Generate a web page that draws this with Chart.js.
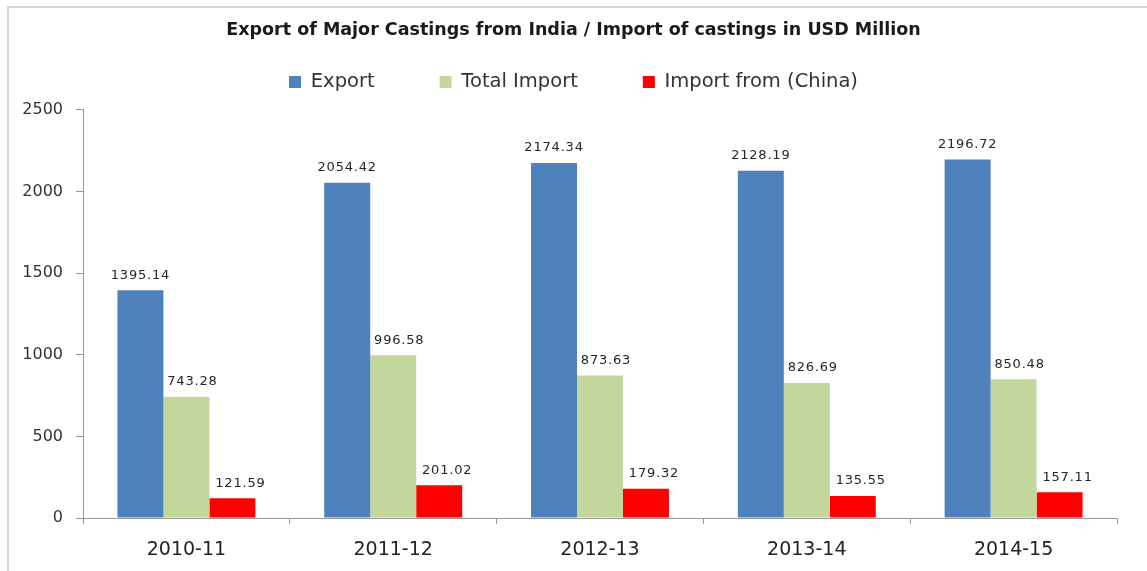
<!DOCTYPE html>
<html>
<head>
<meta charset="utf-8">
<script src="https://cdn.jsdelivr.net/npm/chart.js@4/dist/chart.umd.min.js"></script>
<style>
  html, body { margin: 0; padding: 0; background: #fff; overflow: hidden; }
  #castingsChart { display: block; }
</style>
</head>
<body>
<canvas id="castingsChart" width="1147" height="571"></canvas>
<script>
const years = ["2010-11", "2011-12", "2012-13", "2013-14", "2014-15"];
const exportValues = [1395.14, 2054.42, 2174.34, 2128.19, 2196.72];
const totalImport = [743.28, 996.58, 873.63, 826.69, 850.48];
const chinaImport = [121.59, 201.02, 179.32, 135.55, 157.11];

// grey frame of the original picture (left and top edges only)
const frame = {
  id: "frame",
  beforeDraw(chart) {
    const ctx = chart.ctx;
    ctx.save();
    ctx.strokeStyle = "#d6d6d6";
    ctx.lineWidth = 2;
    ctx.beginPath();
    ctx.moveTo(8, chart.height);
    ctx.lineTo(8, 7);
    ctx.lineTo(chart.width, 7);
    ctx.stroke();
    ctx.restore();
  }
};

// value labels above each bar
const barLabels = {
  id: "barLabels",
  afterDatasetsDraw(chart) {
    const ctx = chart.ctx;
    ctx.save();
    ctx.font = "13px 'DejaVu Sans'";
    ctx.fillStyle = "#262626";
    ctx.textAlign = "center";
    ctx.textBaseline = "middle";
    if ("letterSpacing" in ctx) ctx.letterSpacing = "0.8px";
    chart.data.datasets.forEach((ds, i) => {
      const shift = ds.labelShift || 0;
      chart.getDatasetMeta(i).data.forEach((bar, j) => {
        ctx.fillText(ds.data[j].toFixed(2), bar.x + shift, bar.y - 15);
      });
    });
    ctx.restore();
  }
};

new Chart(document.getElementById("castingsChart").getContext("2d"), {
  type: "bar",
  data: {
    labels: years,
    datasets: [
      { label: "Export", data: exportValues, backgroundColor: "#4F81BD" },
      { label: "Total Import", data: totalImport, backgroundColor: "#C3D69B", labelShift: 6 },
      { label: "Import from (China)", data: chinaImport, backgroundColor: "#FF0000", labelShift: 8 }
    ]
  },
  options: {
    responsive: false,
    animation: false,
    datasets: { bar: { categoryPercentage: 0.667, barPercentage: 1 } },
    layout: { padding: 0 },
    plugins: {
      title: {
        display: true,
        text: "Export of Major Castings from India / Import of castings in USD Million",
        color: "#1a1a1a",
        font: { family: "DejaVu Sans", size: 17.5, weight: "bold" },
        padding: { top: 20, bottom: -33.75 }
      },
      legend: {
        position: "top",
        labels: {
          boxWidth: 12,
          boxHeight: 12,
          padding: 65,
          color: "#333",
          font: { family: "DejaVu Sans", size: 19.5 }
        }
      },
      // empty gap between the legend and the plot
      subtitle: {
        display: true,
        text: " ",
        weight: 500,
        font: { size: 1 },
        padding: { top: 7, bottom: 0 }
      },
      tooltip: { enabled: false }
    },
    scales: {
      x: {
        grid: { offset: true, drawOnChartArea: false, tickLength: 6, color: "#999" },
        border: { color: "#999" },
        ticks: { color: "#222", padding: 15, font: { family: "DejaVu Sans", size: 19 } },
        afterFit: (scale) => {
          scale.height = 53;
          scale.paddingRight = 30;
        }
      },
      y: {
        min: 0,
        max: 2500,
        grid: { drawOnChartArea: false, tickLength: 7, color: "#999" },
        border: { color: "#999" },
        ticks: {
          stepSize: 500,
          color: "#333",
          padding: 13,
          font: { family: "DejaVu Sans", size: 16 },
          callback: (v) => String(v)
        },
        afterFit: (scale) => { scale.width = 83; }
      }
    }
  },
  plugins: [frame, barLabels]
});
</script>
</body>
</html>
